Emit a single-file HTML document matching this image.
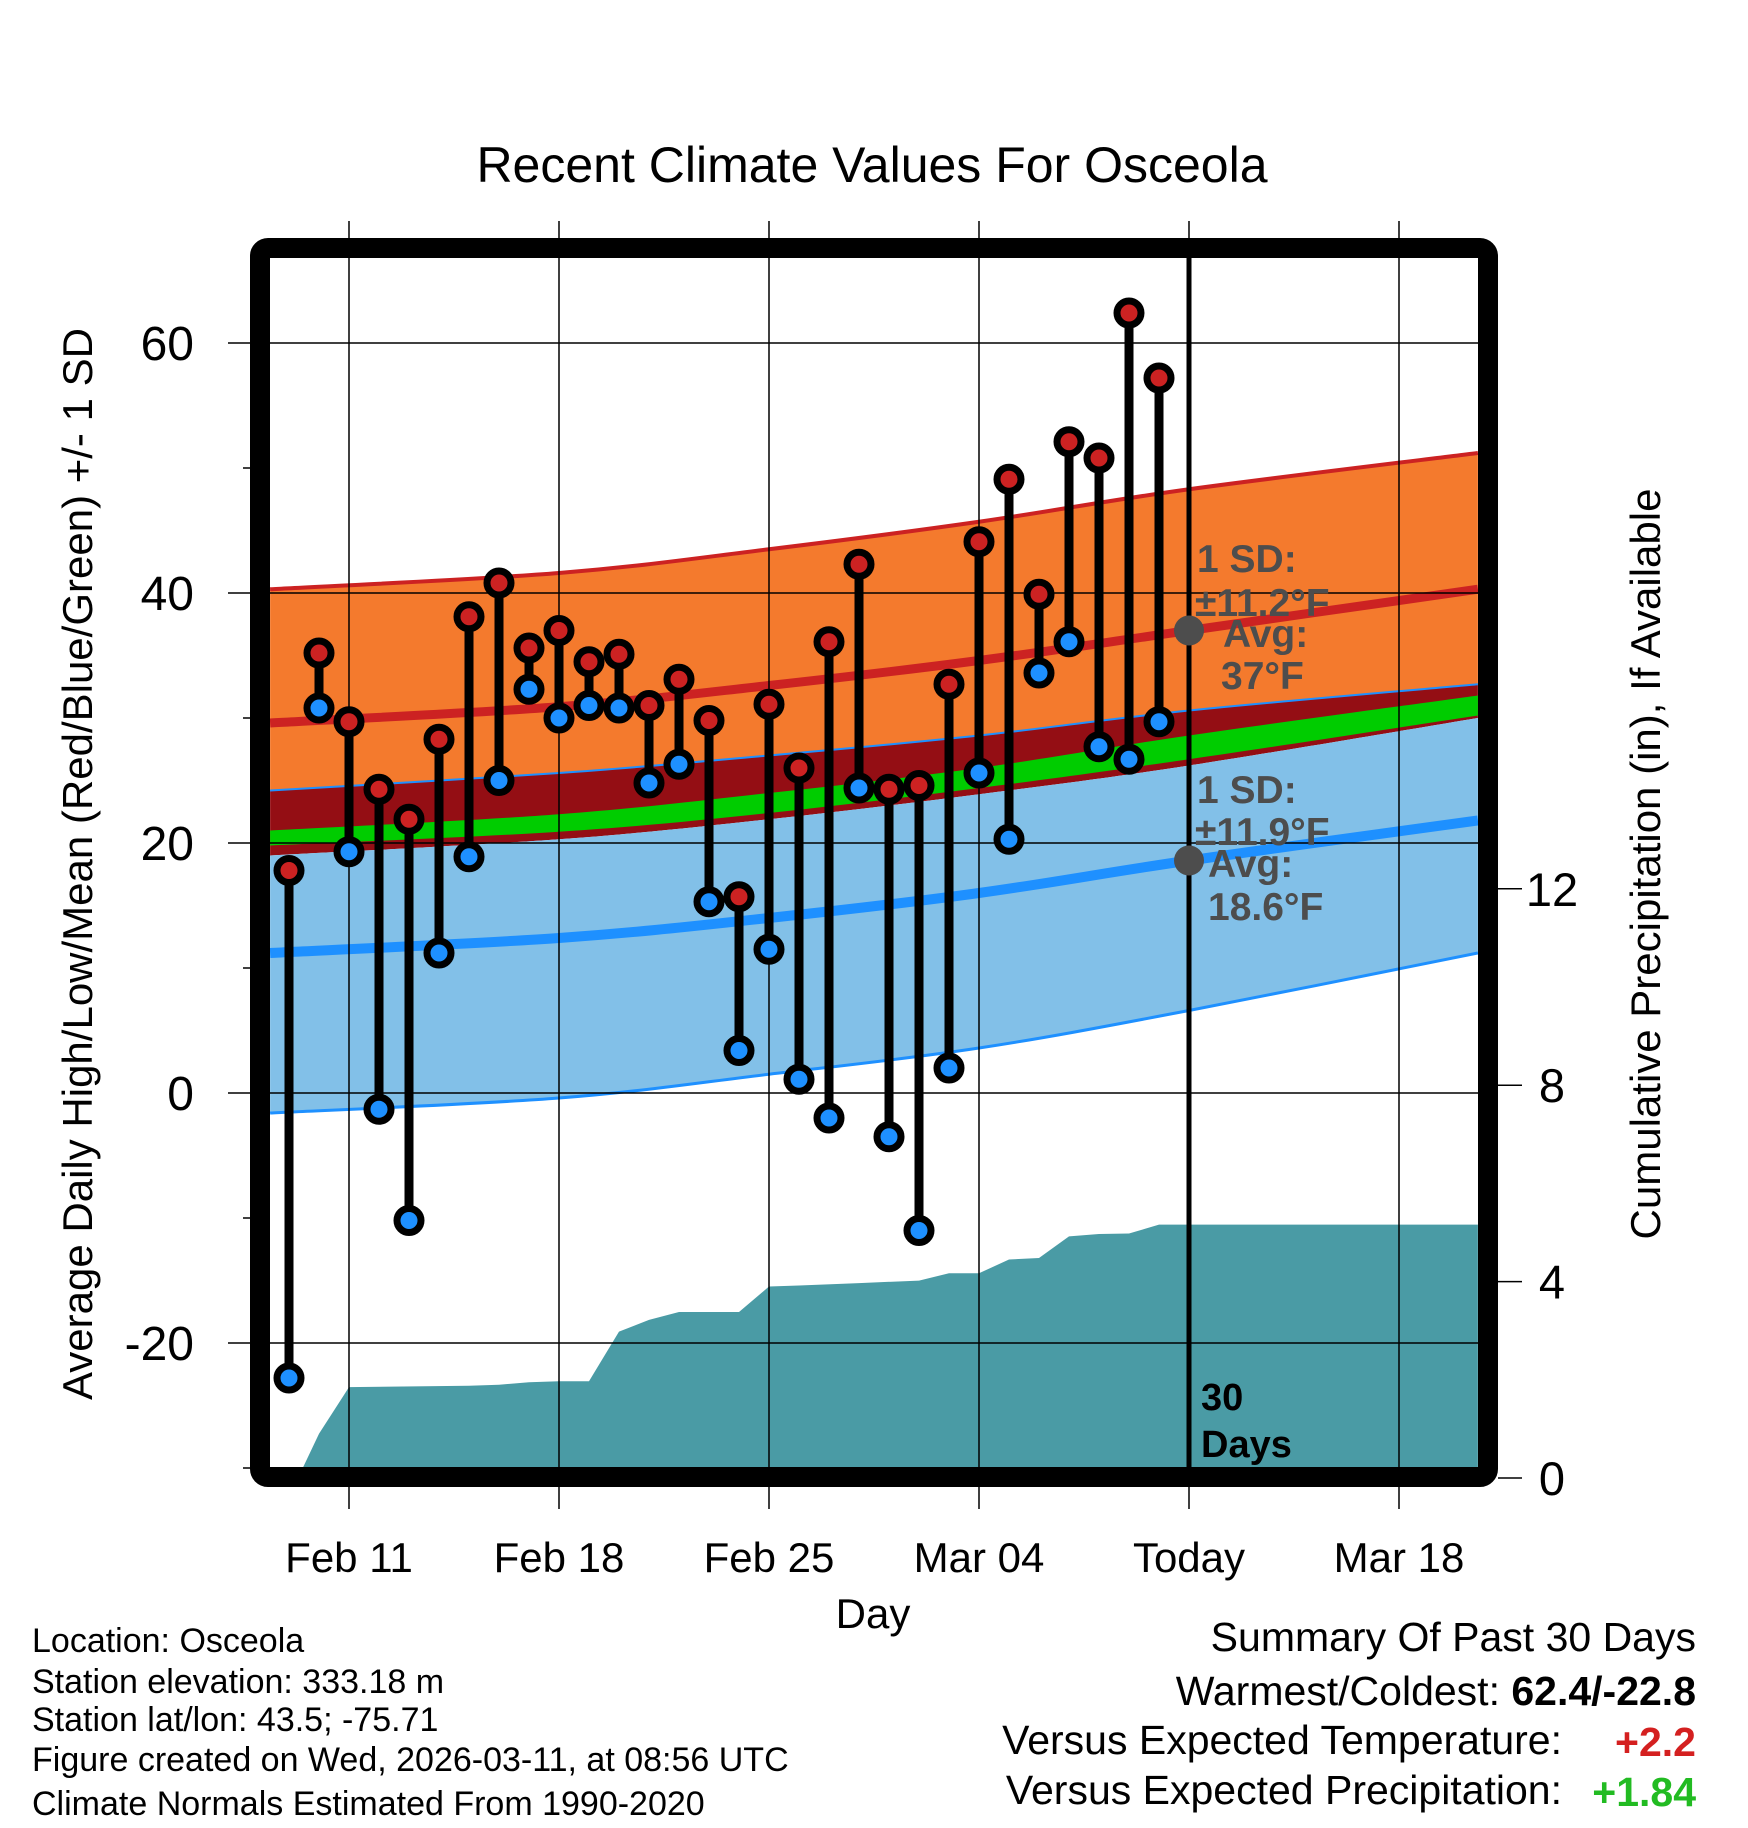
<!DOCTYPE html>
<html><head><meta charset="utf-8"><style>
html,body{margin:0;padding:0;background:#fff}
svg{display:block;font-family:"Liberation Sans",Arial,sans-serif}
</style></head><body>
<svg id="chart" width="1748" height="1828" viewBox="0 0 1748 1828" xmlns="http://www.w3.org/2000/svg">
<defs><clipPath id="plotclip"><rect x="270" y="258" width="1208" height="1210"/></clipPath></defs>
<text x="872" y="182" font-size="50" text-anchor="middle">Recent Climate Values For Osceola</text>
<g id="plot" clip-path="url(#plotclip)"></g>
<g id="grid"></g>
<g id="marks"></g>
<g id="axes"></g>
<rect x="260" y="248" width="1228" height="1229" rx="8" fill="none" stroke="#000" stroke-width="20"/>
<text transform="translate(92,864) rotate(-90)" font-size="42" text-anchor="middle">Average Daily High/Low/Mean (Red/Blue/Green) +/- 1 SD</text>
<text transform="translate(1660,864) rotate(-90)" font-size="42" text-anchor="middle">Cumulative Precipitation (in), If Available</text>
<text x="873" y="1628" font-size="42" text-anchor="middle">Day</text>
<g font-size="34">
<text x="32" y="1652">Location: Osceola</text>
<text x="32" y="1693">Station elevation: 333.18 m</text>
<text x="32" y="1731">Station lat/lon: 43.5; -75.71</text>
<text x="32" y="1771">Figure created on Wed, 2026-03-11, at 08:56 UTC</text>
<text x="32" y="1815">Climate Normals Estimated From 1990-2020</text>
</g>
<g font-size="41" text-anchor="end">
<text x="1696" y="1651">Summary Of Past 30 Days</text>
<text x="1696" y="1705">Warmest/Coldest: <tspan font-weight="bold">62.4/-22.8</tspan></text>
<text x="1562" y="1754">Versus Expected Temperature:</text>
<text x="1696" y="1756" fill="#d42020" font-weight="bold">+2.2</text>
<text x="1562" y="1804">Versus Expected Precipitation:</text>
<text x="1696" y="1806" fill="#22bb22" font-weight="bold">+1.84</text>
</g>
</svg>
<script>
// ---- data ----
const highs=[17.8,35.2,29.7,24.3,21.9,28.3,38.1,40.8,35.6,37.0,34.5,35.1,31.0,33.1,29.8,15.7,31.1,26.0,36.1,42.3,24.3,24.6,32.7,44.1,49.1,39.9,52.1,50.8,62.4,57.2];
const lows=[-22.8,30.8,19.3,-1.3,-10.2,11.2,18.9,25.0,32.3,30.0,31.0,30.8,24.8,26.3,15.3,3.4,11.5,1.1,-2.0,24.4,-3.5,-11.0,2.0,25.6,20.3,33.6,36.1,27.7,26.7,29.7];
const normDays=[-0.63,9,16,23,30,39.63];
const hiUpper=[40.3,41.6,43.5,45.7,48.3,51.2];
const hiMean=[29.6,30.9,32.6,34.6,37.0,40.3];
const darkTop=[24.2,25.6,27.0,28.6,30.6,32.7];
const greenTop=[21.0,22.3,24.0,26.0,28.6,31.8];
const greenBot=[19.8,20.9,22.4,24.4,26.7,30.2];
const lowUpper=[19.0,20.3,21.9,23.9,26.2,30.0];
const lowMean=[11.2,12.4,14.0,16.0,18.6,21.8];
const lowLower=[-1.6,-0.4,1.5,3.6,6.6,11.2];
const precipDays=[0.3,1,2,6,7,8,9,10,11,12,13,15,16,17,19,21,22,23,24,25,26,27,28,29,30,39.63];
const precipVals=[0,0.9,1.85,1.88,1.9,1.95,1.97,1.97,2.98,3.22,3.38,3.38,3.9,3.92,3.97,4.02,4.17,4.17,4.45,4.48,4.92,4.97,4.98,5.16,5.16,5.16];
const yTicks=[60,40,20,0,-20];
const yMinor=[50,30,10,-10,-30];
const pTicks=[0,4,8,12];
const xTickDays=[2,9,16,23,30,37];
const xTickLabels=["Feb 11","Feb 18","Feb 25","Mar 04","Today","Mar 18"];
const todayDay=30;
// ---- scales ----
const X=d=>289+d*30;
const Y=t=>1093-t*12.5;
const YP=p=>1478-p*49.1;
const NS='http://www.w3.org/2000/svg';
function mk(parent,tag,attrs){const e=document.createElementNS(NS,tag);for(const k in attrs)e.setAttribute(k,attrs[k]);parent.appendChild(e);return e;}
const plot=document.getElementById('plot'),grid=document.getElementById('grid'),marks=document.getElementById('marks'),axes=document.getElementById('axes');
function P(arr){return normDays.map((d,i)=>[X(d),Y(arr[i])]);}
function smooth(p){ // catmull-rom path segments after first point
  let s='';
  for(let i=0;i<p.length-1;i++){
    const p0=p[Math.max(0,i-1)],p1=p[i],p2=p[i+1],p3=p[Math.min(p.length-1,i+2)];
    const c1=[p1[0]+(p2[0]-p0[0])/6,p1[1]+(p2[1]-p0[1])/6];
    const c2=[p2[0]-(p3[0]-p1[0])/6,p2[1]-(p3[1]-p1[1])/6];
    s+=` C${c1[0]},${c1[1]} ${c2[0]},${c2[1]} ${p2[0]},${p2[1]}`;
  }
  return s;
}
function band(top,bot,fill,name){
  const a=P(top),b=P(bot).reverse();
  const d=`M${a[0][0]},${a[0][1]}`+smooth(a)+` L${b[0][0]},${b[0][1]}`+smooth(b)+'Z';
  const e=mk(plot,'path',{d:d,fill:fill});
  
  
}
function line(arr,stroke,w,name){
  const a=P(arr);
  const e=mk(plot,'path',{d:`M${a[0][0]},${a[0][1]}`+smooth(a),fill:'none',stroke:stroke,'stroke-width':w});
  
  
}
band(hiUpper,darkTop,'#f47a2d','high-sd-band');
band(darkTop,lowUpper,'#940e14','overlap-band');
band(greenTop,greenBot,'#00cc00','mean-band');
band(lowUpper,lowLower,'#82c0e8','low-sd-band');
line(hiUpper,'#cc2222',4,'high-upper-line');
line(darkTop,'#1e90ff',2,'low-upper-line');
line(lowLower,'#1e90ff',3,'low-lower-line');
line(hiMean,'#cc2222',9,'high-mean-line');
line(lowMean,'#1e90ff',10,'low-mean-line');
// precip
{
  const p=precipDays.map((d,i)=>X(d)+','+YP(precipVals[i]));
  p.push(X(precipDays[precipDays.length-1])+','+YP(0));
  p.push(X(precipDays[0])+','+YP(0));
  const e=mk(plot,'polygon',{points:p.join(' '),fill:'#4a9ba5'});
  
  
}
// gridlines
yTicks.forEach(t=>{
  const e=mk(grid,'line',{x1:228,x2:1478,y1:Y(t),y2:Y(t),stroke:'#000','stroke-width':1.5});
  
  
  const l=mk(axes,'text',{x:194,y:Y(t)+17,'font-size':48,'text-anchor':'end'});
  l.textContent=t;
  
  
});
yMinor.forEach(t=>{
  const e=mk(axes,'line',{x1:243,x2:252,y1:Y(t),y2:Y(t),stroke:'#000','stroke-width':1.5});
  
  
});
xTickDays.forEach((d,i)=>{
  const e=mk(grid,'line',{x1:X(d),x2:X(d),y1:221,y2:1509,stroke:'#000','stroke-width':1.5});
  
  
  const l=mk(axes,'text',{x:X(d),y:1572,'font-size':42,'text-anchor':'middle'});
  l.textContent=xTickLabels[i];
  
  
});
pTicks.forEach(p=>{
  const e=mk(axes,'line',{x1:1498,x2:1522,y1:YP(p),y2:YP(p),stroke:'#000','stroke-width':1.5});
  
  
  const l=mk(axes,'text',{x:1552,y:YP(p)+17,'font-size':47,'text-anchor':'middle'});
  l.textContent=p;
  
  
});
// today line
{
  const e=mk(grid,'line',{x1:X(todayDay),x2:X(todayDay),y1:258,y2:1468,stroke:'#000','stroke-width':5});
  
  
}
// stems and dots
highs.forEach((h,i)=>{
  const x=X(i),l=lows[i];
  const s=mk(marks,'line',{x1:x,x2:x,y1:Y(h),y2:Y(l),stroke:'#000','stroke-width':9});
  
  
});
highs.forEach((h,i)=>{
  const x=X(i);
  const a=mk(marks,'circle',{cx:x,cy:Y(h),r:12,fill:'#cc2222',stroke:'#000','stroke-width':7});
  
  
  const b=mk(marks,'circle',{cx:x,cy:Y(lows[i]),r:12,fill:'#1e90ff',stroke:'#000','stroke-width':7});
  
  
});
// annotations
const ann=mk(marks,'g',{fill:'#4d4d4d','font-weight':'bold','font-size':39});


[[X(todayDay),Y(hiMean[4])],[X(todayDay),Y(lowMean[4])]].forEach(([cx,cy])=>{
  const c=mk(ann,'circle',{cx:cx,cy:cy,r:15,fill:'#4d4d4d'});
  
  
});
const texts=[[1197,572,'1 SD:'],[1195,616,'±11.2°F'],[1223,647,'Avg:'],[1221,689,'37°F'],[1197,803,'1 SD:'],[1195,845,'±11.9°F'],[1208,877,'Avg:'],[1208,920,'18.6°F']];
texts.forEach(([x,y,t])=>{
  const e=mk(ann,'text',{x:x,y:y});
  e.textContent=t;
  
  
});
[[1201,1410,'30'],[1201,1457,'Days']].forEach(([x,y,t])=>{
  const e=mk(marks,'text',{x:x,y:y,'font-size':38,'font-weight':'bold'});
  e.textContent=t;
  
  
});
</script>
</body></html>
